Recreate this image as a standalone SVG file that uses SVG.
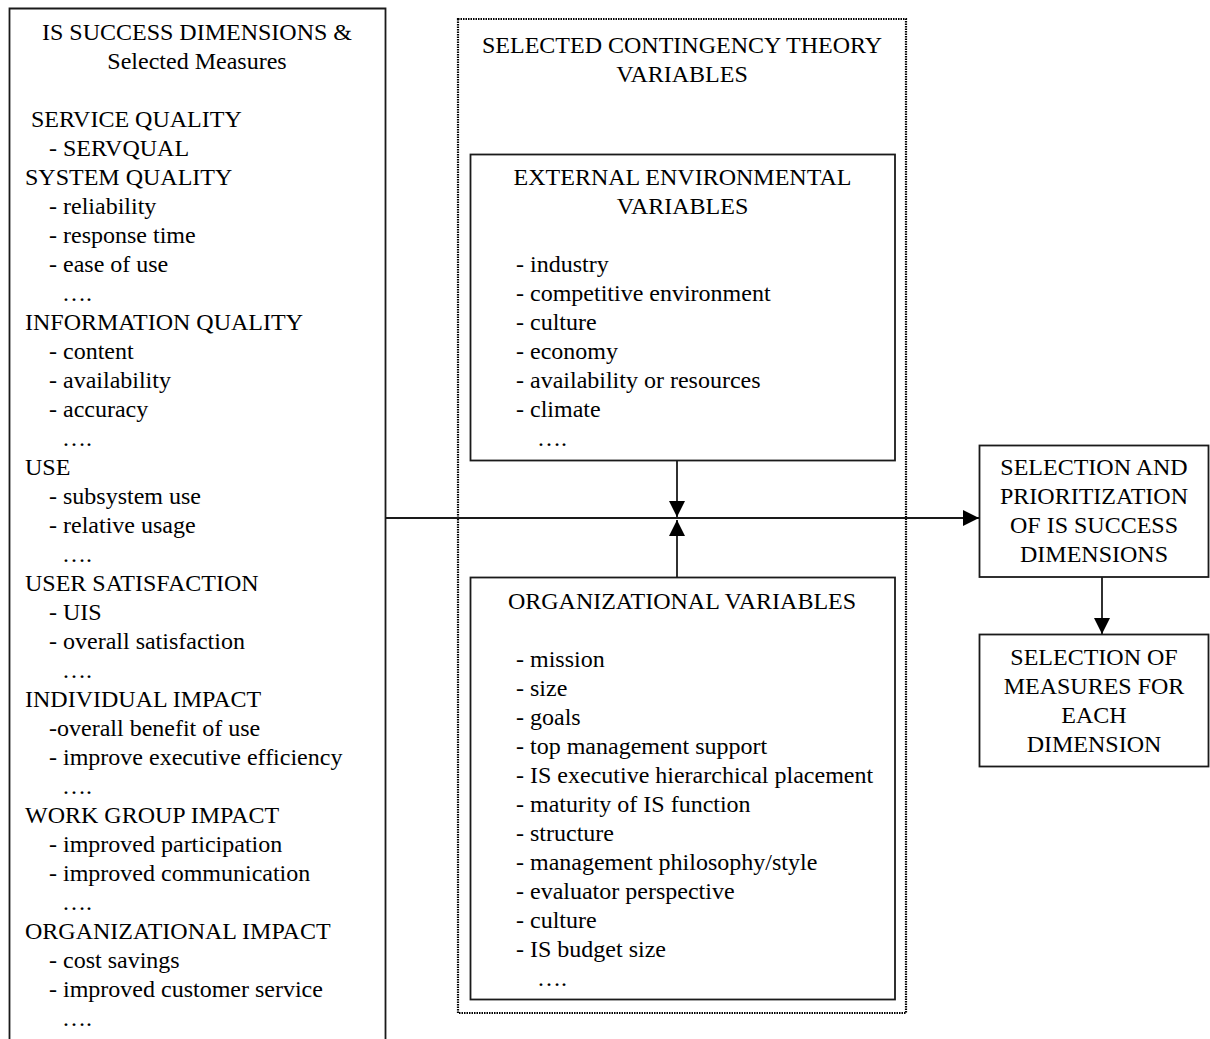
<svg xmlns="http://www.w3.org/2000/svg" width="1210" height="1039" viewBox="0 0 1210 1039">
<style>
text{font-family:"Liberation Serif","Times New Roman",serif;font-size:24px;fill:#000}
.c{text-anchor:middle}
.box{fill:none;stroke:#1a1a1a;stroke-width:1.8}
.dot{fill:none;stroke:#000;stroke-width:2.2;stroke-dasharray:1.5 1}
.conn{fill:none;stroke:#1a1a1a;stroke-width:1.8}
</style>
<defs>
<marker id="arr" viewBox="0 0 16 16" refX="16" refY="8" markerWidth="16" markerHeight="16" markerUnits="userSpaceOnUse" orient="auto">
<path d="M0,0 L16,8 L0,16 z" fill="#000"/>
</marker>
</defs>
<rect width="1210" height="1039" fill="#fff"/>

<g id="is-success">
<path class="box" d="M9.5,1045 V8.5 H385.5 V1045"/>
<text class="c" x="197" y="40">IS SUCCESS DIMENSIONS &amp;</text>
<text class="c" x="197" y="69">Selected Measures</text>
<text x="31" y="127">SERVICE QUALITY</text>
<text x="49" y="156">- SERVQUAL</text>
<text x="25" y="185">SYSTEM QUALITY</text>
<text x="49" y="214">- reliability</text>
<text x="49" y="243">- response time</text>
<text x="49" y="272">- ease of use</text>
<text x="62" y="301">….</text>
<text x="25" y="330">INFORMATION QUALITY</text>
<text x="49" y="359">- content</text>
<text x="49" y="388">- availability</text>
<text x="49" y="417">- accuracy</text>
<text x="62" y="446">….</text>
<text x="25" y="475">USE</text>
<text x="49" y="504">- subsystem use</text>
<text x="49" y="533">- relative usage</text>
<text x="62" y="562">….</text>
<text x="25" y="591">USER SATISFACTION</text>
<text x="49" y="620">- UIS</text>
<text x="49" y="649">- overall satisfaction</text>
<text x="62" y="678">….</text>
<text x="25" y="707">INDIVIDUAL IMPACT</text>
<text x="49" y="736">-overall benefit of use</text>
<text x="49" y="765">- improve executive efficiency</text>
<text x="62" y="794">….</text>
<text x="25" y="823">WORK GROUP IMPACT</text>
<text x="49" y="852">- improved participation</text>
<text x="49" y="881">- improved communication</text>
<text x="62" y="910">….</text>
<text x="25" y="939">ORGANIZATIONAL IMPACT</text>
<text x="49" y="968">- cost savings</text>
<text x="49" y="997">- improved customer service</text>
<text x="62" y="1026">….</text>
</g>

<g id="contingency">
<rect class="dot" x="458" y="19" width="448" height="994"/>
<text class="c" x="682" y="53">SELECTED CONTINGENCY THEORY</text>
<text class="c" x="682" y="82">VARIABLES</text>
</g>

<g id="external">
<rect class="box" x="470.5" y="154.5" width="424.5" height="306"/>
<text class="c" x="682.5" y="185">EXTERNAL ENVIRONMENTAL</text>
<text class="c" x="682.5" y="214">VARIABLES</text>
<text x="516" y="272">- industry</text>
<text x="516" y="301">- competitive environment</text>
<text x="516" y="330">- culture</text>
<text x="516" y="359">- economy</text>
<text x="516" y="388">- availability or resources</text>
<text x="516" y="417">- climate</text>
<text x="537" y="446">….</text>
</g>

<g id="organizational">
<rect class="box" x="470.5" y="577.5" width="424.5" height="422"/>
<text class="c" x="682" y="609">ORGANIZATIONAL VARIABLES</text>
<text x="516" y="667">- mission</text>
<text x="516" y="696">- size</text>
<text x="516" y="725">- goals</text>
<text x="516" y="754">- top management support</text>
<text x="516" y="783">- IS executive hierarchical placement</text>
<text x="516" y="812">- maturity of IS function</text>
<text x="516" y="841">- structure</text>
<text x="516" y="870">- management philosophy/style</text>
<text x="516" y="899">- evaluator perspective</text>
<text x="516" y="928">- culture</text>
<text x="516" y="957">- IS budget size</text>
<text x="537" y="986">….</text>
</g>

<g id="prioritization">
<rect class="box" x="979.5" y="445.5" width="229" height="131.5"/>
<text class="c" x="1094" y="475">SELECTION AND</text>
<text class="c" x="1094" y="504">PRIORITIZATION</text>
<text class="c" x="1094" y="533">OF IS SUCCESS</text>
<text class="c" x="1094" y="562">DIMENSIONS</text>
</g>

<g id="measures">
<rect class="box" x="979.5" y="634.5" width="229" height="132"/>
<text class="c" x="1094" y="665">SELECTION OF</text>
<text class="c" x="1094" y="694">MEASURES FOR</text>
<text class="c" x="1094" y="723">EACH</text>
<text class="c" x="1094" y="752">DIMENSION</text>
</g>

<g id="connectors">
<path class="conn" d="M386,518 H979" marker-end="url(#arr)"/>
<path class="conn" d="M677,461 V517" marker-end="url(#arr)"/>
<path class="conn" d="M677,577 V520" marker-end="url(#arr)"/>
<path class="conn" d="M1102,577 V634" marker-end="url(#arr)"/>
</g>
</svg>
